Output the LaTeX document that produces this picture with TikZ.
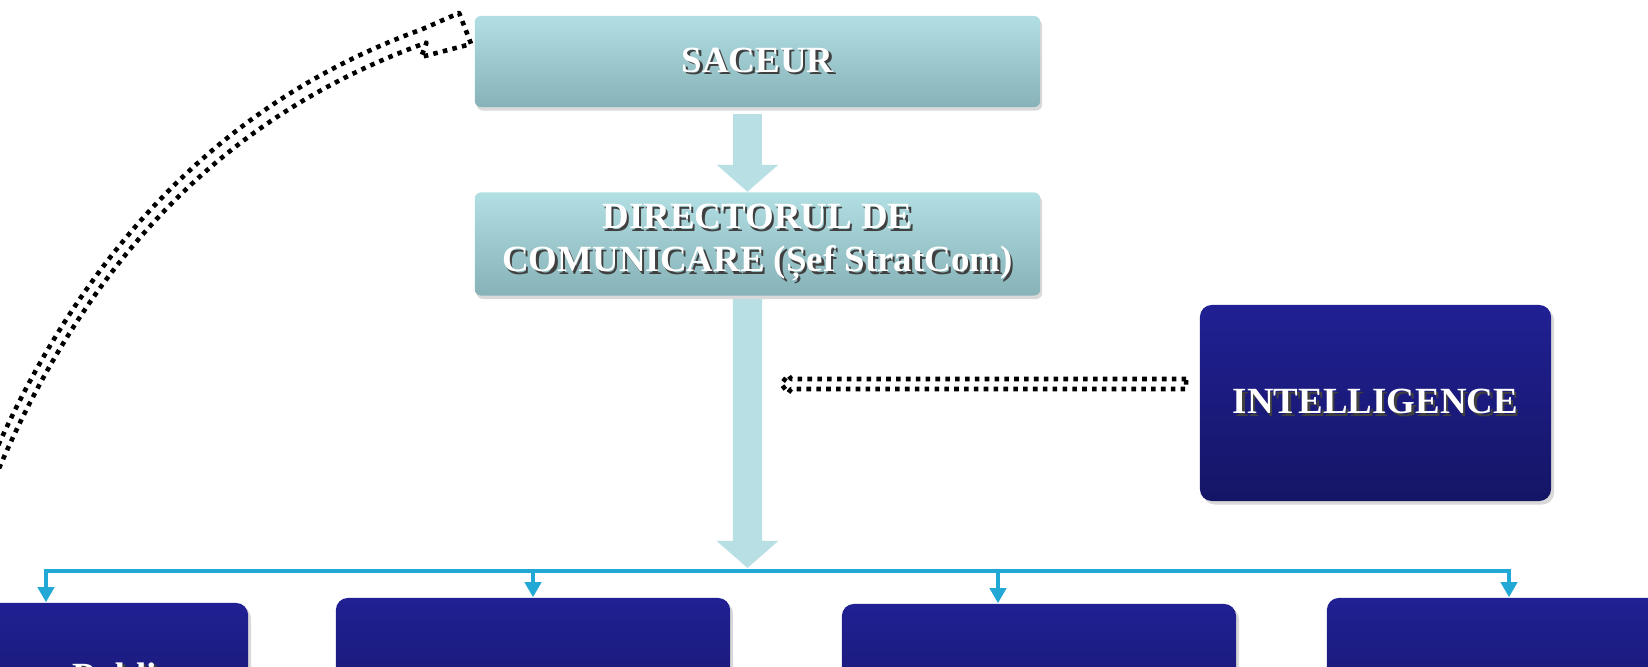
\documentclass[tikz,border=0pt]{standalone}
\usepackage{fontspec}
\setmainfont{Liberation Serif}
\usetikzlibrary{calc, positioning, arrows.meta, shadows}
\definecolor{paleTeal}{RGB}{178,223,227}
\definecolor{deepTeal}{RGB}{134,178,184}
\definecolor{arrowTeal}{RGB}{184,223,227}
\definecolor{navyTop}{RGB}{32,32,148}
\definecolor{navyBot}{RGB}{21,21,102}
\definecolor{busBlue}{RGB}{33,168,212}
\newcommand{\shadowtxt}[1]{\leavevmode\rlap{\kern0.7pt\raisebox{-0.7pt}{\color{black!75}#1}}#1}

\begin{document}
\begin{tikzpicture}[x=0.01cm, y=-0.01cm, >=Stealth,
  boxtext/.style={text=white, font=\fontsize{10.5}{12.3}\selectfont\bfseries, align=center},
  tealbox/.style={boxtext, rectangle, rounded corners=0.6mm, top color=paleTeal, bottom color=deepTeal,
    minimum width=5.65cm, minimum height=0.91cm,
    drop shadow={shadow xshift=0.2mm, shadow yshift=-0.35mm, opacity=0.3}},
  navybox/.style={boxtext, rectangle, rounded corners=1.2mm, top color=navyTop, bottom color=navyBot,
    minimum width=3.94cm, minimum height=1.5cm,
    drop shadow={shadow xshift=0.3mm, shadow yshift=-0.35mm, opacity=0.3}},
  fatarrow/.style={draw=arrowTeal, line width=2.9mm, -{Triangle[length=2.7mm, width=6mm]}},
  busline/.style={draw=busBlue, line width=1.4pt, -{Triangle[length=1.5mm, width=1.6mm]}},
  dotline/.style={line width=1.3pt, dash pattern=on 1.3pt off 1.5pt, line join=round}]
  \useasboundingbox (0,0) rectangle (1648,667);

  % Top chain
  \node[tealbox] (saceur) at (757.5,61.5) {\shadowtxt{SACEUR}};
  \node[tealbox, below=0.84cm of saceur] (director) {\shadowtxt{DIRECTORUL DE}\\\shadowtxt{COMUNICARE (Șef StratCom)}};
  \node[navybox, minimum width=3.51cm, minimum height=1.96cm] (intel) at (1375.5,403) {\shadowtxt{INTELLIGENCE}};

  % Bottom row
  \node[navybox] (box1) at (51,678) {};
  \node[navybox] (box2) at (533,673) {};
  \node[navybox] (box3) at (1039,679) {};
  \node[navybox] (box4) at (1524,673) {};
  \node[boxtext, anchor=base west, inner sep=0pt] (pubtxt) at (72,688) {\shadowtxt{Public}};

  % Block arrows
  \coordinate (hub) at (747.5,571);
  \draw[fatarrow] ([xshift=-0.1cm, yshift=-0.06cm]saceur.south) -- ([xshift=-0.1cm]director.north);
  \draw[fatarrow] ([xshift=-0.1cm, yshift=-0.03cm]director.south) -- ([yshift=0.03cm]hub);

  % Distribution
  \draw[busline] (hub) -| ($(box1.north)+(-5,0)$);
  \draw[busline] (hub) -| (box2.north);
  \draw[busline] (hub) -| ($(box3.north)+(-41,0)$);
  \draw[busline] (hub) -| ($(box4.north)+(-15,0)$);

  % Dotted outline arrows
  \begin{scope}[shift={(intel.west)}]
    \draw[dotline] (-13,-24) -- (-408,-24) -- (-411,-28) -- (-418,-19) -- (-411,-10)
      -- (-408,-14) -- (-13,-14) -- cycle;
  \end{scope}
  \begin{scope}[shift={(saceur.west)}]
    \draw[dotline] (-487.6,410.5) .. controls (-391.8,184.5) and (-247,38.3) .. (-52.4,-32.1)
      -- (-15,-48.5) -- (-3,-17.5) -- (-53,-4.5) -- (-47.6,-18.9)
      .. controls (-242.2,51.5) and (-382.6,188.5) .. (-478.4,414.5) -- cycle;
  \end{scope}
\end{tikzpicture}
\end{document}
